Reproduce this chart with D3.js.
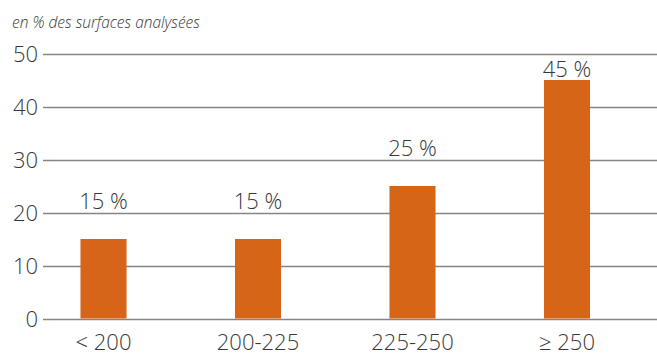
<!DOCTYPE html>
<html>
<head>
<meta charset="utf-8">
<script src="https://cdn.jsdelivr.net/npm/d3@7"></script>
<style>
  html, body { margin: 0; padding: 0; background: #fff; }
  svg { display: block; }
  text { font-family: "Open Sans", "DejaVu Sans", sans-serif; fill: #383838; }
</style>
</head>
<body>
<svg id="chart" width="657" height="356"></svg>
<script>
// Surface classes and their share (in %)
const categories = ["< 200", "200-225", "225-250", "\u2265 250"];
const shares = [15, 15, 25, 45];
const valueLabels = ["15 %", "15 %", "25 %", "45 %"];
const yTicks = [0, 10, 20, 30, 40, 50];
const unitTitle = "en % des surfaces analysées";

const svg = d3.select("#chart");
const W = 657;

const y = d3.scaleLinear().domain([0, 50]).range([318.5, 53.5]);
const x = d3.scaleBand()
  .domain(categories)
  .range([26.25, 644.25])
  .paddingInner(0.702)
  .paddingOuter(0.351);

// unit title
svg.append("text")
  .attr("x", 12).attr("y", 28)
  .style("font-size", "15.5px")
  .style("font-style", "italic")
  .style("font-weight", 300)
  .text(unitTitle);

// horizontal gridlines and tick labels
const yAxis = svg.append("g");
yAxis.selectAll("line").data(yTicks).join("line")
  .attr("x1", 43).attr("x2", W)
  .attr("y1", d => Math.round(y(d)) + 0.5)
  .attr("y2", d => Math.round(y(d)) + 0.5)
  .attr("stroke", "#858585")
  .attr("stroke-width", 1.5);
yAxis.selectAll("text").data(yTicks).join("text")
  .attr("x", 38)
  .attr("y", d => y(d) + 8)
  .attr("text-anchor", "end")
  .style("font-size", "22px")
  .style("font-weight", 300)
  .text(d => d);

// bars
svg.append("g").selectAll("rect").data(shares).join("rect")
  .attr("x", (d, i) => x(categories[i]))
  .attr("width", x.bandwidth())
  .attr("y", d => y(d))
  .attr("height", d => y(0) - y(d))
  .attr("fill", "#d66518");

// value labels above bars
svg.append("g").selectAll("text").data(shares).join("text")
  .attr("x", (d, i) => x(categories[i]) + x.bandwidth() / 2)
  .attr("y", d => Math.max(y(d) - 30, y(50) + 23))
  .attr("text-anchor", "middle")
  .style("font-size", "22px")
  .style("font-weight", 300)
  .text((d, i) => valueLabels[i]);

// category labels
svg.append("g").selectAll("text").data(categories).join("text")
  .attr("x", d => x(d) + x.bandwidth() / 2)
  .attr("y", 350)
  .attr("text-anchor", "middle")
  .style("font-size", "22px")
  .style("font-weight", 300)
  .text(d => d);
</script>
</body>
</html>
